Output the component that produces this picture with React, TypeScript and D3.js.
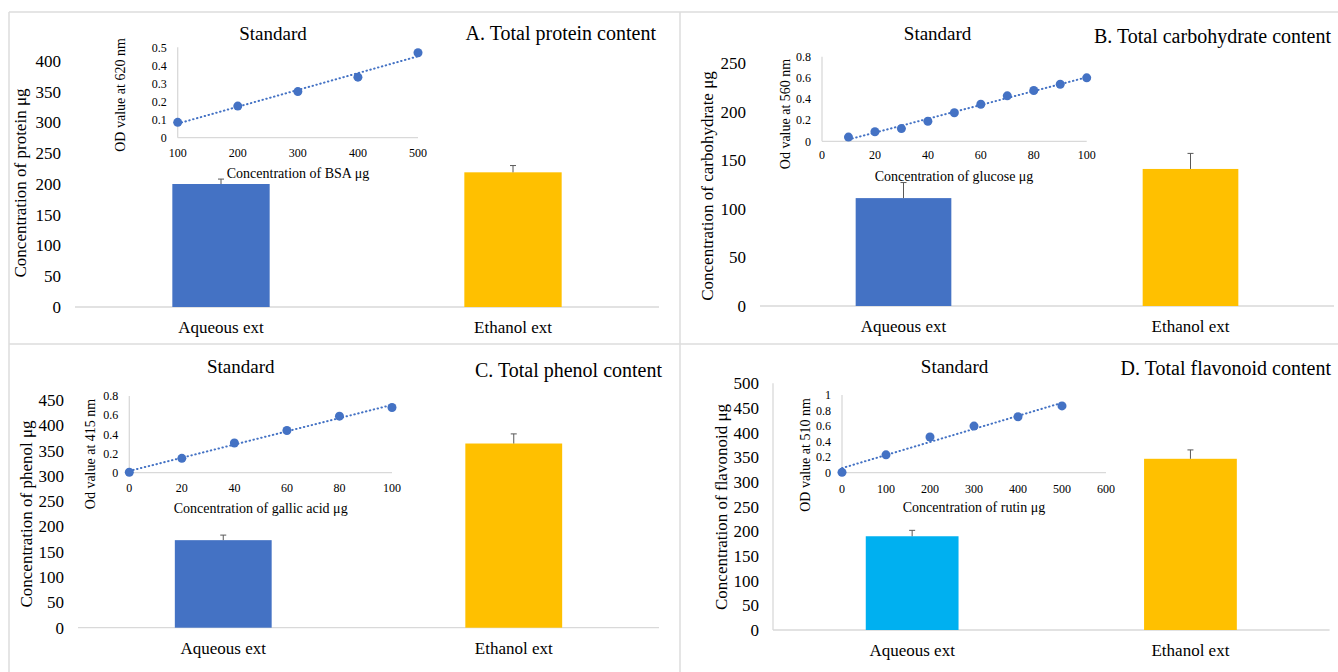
import React from 'react';
import * as d3 from 'd3';

// categories shared by all four panels
const categories = ['Aqueous ext', 'Ethanol ext'];

// A. protein
const proteinMeans = [200, 219];
const proteinErrors = [8, 11];
const bsaConc = [100, 200, 300, 400, 500];
const bsaOD = [0.085, 0.175, 0.255, 0.335, 0.47];

// B. carbohydrate
const carbMeans = [111, 141];
const carbErrors = [16, 16];
const glucoseConc = [10, 20, 30, 40, 50, 60, 70, 80, 90, 100];
const glucoseOD = [0.04, 0.09, 0.12, 0.19, 0.27, 0.35, 0.43, 0.48, 0.54, 0.6];

// C. phenol
const phenolMeans = [173, 364];
const phenolErrors = [10, 19];
const gallicConc = [0, 20, 40, 60, 80, 100];
const gallicOD = [0.005, 0.15, 0.31, 0.44, 0.59, 0.68];

// D. flavonoid
const flavMeans = [190, 347];
const flavErrors = [12, 18];
const rutinConc = [0, 100, 200, 300, 400, 500];
const rutinOD = [0.005, 0.23, 0.46, 0.6, 0.72, 0.86];

const FONT = "'Liberation Serif', 'Times New Roman', 'DejaVu Serif', serif";
const AXIS = '#d9d9d9';
const DOT = '#4472C4';

function fmt(v: number) {
    return String(+v.toFixed(2));
}

// least squares line, like Excel's linear trendline
function regression(xs: number[], ys: number[]) {
    const mx = d3.mean(xs) as number, my = d3.mean(ys) as number;
    let num = 0, den = 0;
    xs.forEach((x, i) => { num += (x - mx) * (ys[i] - my); den += (x - mx) * (x - mx); });
    const slope = num / den;
    return (x: number) => my + slope * (x - mx);
}

function Inset({cfg}: any) {
    const x = d3.scaleLinear().domain(cfg.xDomain).range(cfg.xRange);
    const y = d3.scaleLinear().domain(cfg.yDomain).range(cfg.yRange);
    const xTicks = d3.range(cfg.xDomain[0], cfg.xDomain[1] + cfg.xStep / 2, cfg.xStep);
    const yTicks = d3.range(cfg.yDomain[0], cfg.yDomain[1] + cfg.yStep / 2, cfg.yStep);
    const fit = regression(cfg.xs, cfg.ys);
    const x0 = d3.min(cfg.xs) as number, x1 = d3.max(cfg.xs) as number;
    const trend = d3.line<number>().x(d => x(d)).y(d => y(fit(d)))([x0, x1]);
    return (
        <g>
            <text x={cfg.titleX} y={cfg.titleY} textAnchor="middle" fontSize={19}>Standard</text>
            <line x1={x.range()[0]} x2={x.range()[1]} y1={y.range()[0]} y2={y.range()[0]} stroke={AXIS} strokeWidth={1.3}/>
            <line x1={x.range()[0]} x2={x.range()[0]} y1={y.range()[0]} y2={y.range()[1]} stroke={AXIS} strokeWidth={1.3}/>
            {xTicks.map(t => (
                <text key={'x' + t} x={x(t)} y={cfg.xLabelY} dy="0.35em" textAnchor="middle" fontSize={12}>{fmt(t)}</text>
            ))}
            {yTicks.map(t => (
                <text key={'y' + t} x={x.range()[0] - 11} y={y(t)} dy="0.35em" textAnchor="end" fontSize={12}>{fmt(t)}</text>
            ))}
            <text x={cfg.xTitleX} y={cfg.xTitleY} dy="0.35em" textAnchor="middle" fontSize={14}>{cfg.xTitle}</text>
            <text transform={`translate(${cfg.yTitleX},${cfg.yTitleY}) rotate(-90)`} dy="0.35em" textAnchor="middle" fontSize={14}>{cfg.yTitle}</text>
            <path d={trend || ''} fill="none" stroke={DOT} strokeWidth={2} strokeDasharray="0.5 3.5" strokeLinecap="round"/>
            {cfg.xs.map((v: number, i: number) => (
                <circle key={i} cx={x(v)} cy={y(cfg.ys[i])} r={4.5} fill={DOT}/>
            ))}
        </g>
    );
}

function Panel({cfg}: any) {
    const x = d3.scaleBand().domain(categories).range(cfg.xRange).paddingInner(2 / 3).paddingOuter(1 / 3);
    const y = d3.scaleLinear().domain([0, cfg.yMax]).range(cfg.yRange);
    const ticks = d3.range(0, cfg.yMax + 1, cfg.yStep);
    const base = y(0);
    return (
        <g>
            <line x1={cfg.xRange[0]} x2={cfg.xRange[1]} y1={base} y2={base} stroke={AXIS} strokeWidth={1.3}/>
            {cfg.yLine && <line x1={cfg.xRange[0]} x2={cfg.xRange[0]} y1={base} y2={y(cfg.yMax)} stroke={AXIS} strokeWidth={1.3}/>}
            {ticks.map(t => (
                <text key={t} x={cfg.xRange[0] - 14} y={y(t)} dy="0.35em" textAnchor="end" fontSize={17}>{t}</text>
            ))}
            <text transform={`translate(${cfg.yTitleX},${cfg.yTitleY}) rotate(-90)`} dy="0.35em" textAnchor="middle" fontSize={17}>{cfg.yTitle}</text>
            {categories.map((c, i) => {
                const bx = x(c) as number, bw = x.bandwidth(), cx = bx + bw / 2;
                const top = y(cfg.means[i]), errTop = y(cfg.means[i] + cfg.errors[i]);
                return (
                    <g key={c}>
                        <rect x={bx} y={top} width={bw} height={base - top} fill={cfg.colors[i]}/>
                        <line x1={cx} x2={cx} y1={top} y2={errTop} stroke="#595959" strokeWidth={1}/>
                        <line x1={cx - 3} x2={cx + 3} y1={errTop} y2={errTop} stroke="#595959" strokeWidth={1}/>
                        <text x={cx} y={base + 20} dy="0.35em" textAnchor="middle" fontSize={17}>{c}</text>
                    </g>
                );
            })}
            <text x={cfg.titleRight} y={cfg.titleY} textAnchor="end" fontSize={20}>{cfg.title}</text>
            <Inset cfg={cfg.inset}/>
        </g>
    );
}

const panels = [
    {
        title: 'A. Total protein content', titleRight: 656, titleY: 40,
        xRange: [75, 659], yRange: [307, 61], yMax: 400, yStep: 50, yLine: false,
        yTitle: 'Concentration of protein μg', yTitleX: 20, yTitleY: 183,
        means: proteinMeans, errors: proteinErrors, colors: ['#4472C4', '#FFC000'],
        inset: {
            xs: bsaConc, ys: bsaOD, xDomain: [100, 500], xRange: [177.7, 418], xStep: 100,
            yDomain: [0, 0.5], yRange: [137.7, 47.3], yStep: 0.1,
            xLabelY: 153, xTitle: 'Concentration of BSA μg', xTitleX: 298, xTitleY: 172.6,
            yTitle: 'OD value at 620 nm', yTitleX: 120, yTitleY: 95, titleX: 273, titleY: 40
        }
    },
    {
        title: 'B. Total carbohydrate content', titleRight: 1331, titleY: 43,
        xRange: [760, 1334], yRange: [306, 63], yMax: 250, yStep: 50, yLine: false,
        yTitle: 'Concentration of carbohydrate μg', yTitleX: 707.5, yTitleY: 186,
        means: carbMeans, errors: carbErrors, colors: ['#4472C4', '#FFC000'],
        inset: {
            xs: glucoseConc, ys: glucoseOD, xDomain: [0, 100], xRange: [822, 1086.7], xStep: 20,
            yDomain: [0, 0.8], yRange: [141.3, 56.7], yStep: 0.2,
            xLabelY: 155, xTitle: 'Concentration of glucose μg', xTitleX: 954, xTitleY: 175.7,
            yTitle: 'Od value at 560 nm', yTitleX: 785, yTitleY: 114, titleX: 937.6, titleY: 40
        }
    },
    {
        title: 'C. Total phenol content', titleRight: 662, titleY: 377,
        xRange: [78, 659], yRange: [627.7, 400], yMax: 450, yStep: 50, yLine: false,
        yTitle: 'Concentration of phenol μg', yTitleX: 26, yTitleY: 514,
        means: phenolMeans, errors: phenolErrors, colors: ['#4472C4', '#FFC000'],
        inset: {
            xs: gallicConc, ys: gallicOD, xDomain: [0, 100], xRange: [129.3, 392], xStep: 20,
            yDomain: [0, 0.8], yRange: [472.7, 396], yStep: 0.2,
            xLabelY: 488, xTitle: 'Concentration of gallic acid μg', xTitleX: 260.7, xTitleY: 508,
            yTitle: 'Od value at 415 nm', yTitleX: 90, yTitleY: 454, titleX: 240.7, titleY: 373
        }
    },
    {
        title: 'D. Total flavonoid content', titleRight: 1331, titleY: 375,
        xRange: [773, 1329.6], yRange: [630, 383.3], yMax: 500, yStep: 50, yLine: true,
        yTitle: 'Concentration of flavonoid μg', yTitleX: 721, yTitleY: 507,
        means: flavMeans, errors: flavErrors, colors: ['#00B0F0', '#FFC000'],
        inset: {
            xs: rutinConc, ys: rutinOD, xDomain: [0, 600], xRange: [842, 1106], xStep: 100,
            yDomain: [0, 1], yRange: [472.7, 395], yStep: 0.2,
            xLabelY: 488.3, xTitle: 'Concentration of rutin μg', xTitleX: 974, xTitleY: 507.3,
            yTitle: 'OD value at 510 nm', yTitleX: 805, yTitleY: 455, titleX: 954.6, titleY: 373
        }
    }
];

export default function App() {
    return (
        <svg width={1338} height={672} style={{position: 'absolute', left: 0, top: 0, background: '#fff', fontFamily: FONT}}
             fill="#000">
            <rect width={1338} height={672} fill="#fff"/>
            {/* panel frame */}
            <g stroke="#dcdcdc" strokeWidth={1.5}>
                <line x1={9} x2={1338} y1={12} y2={12}/>
                <line x1={9} x2={1338} y1={344} y2={344}/>
                <line x1={9} x2={9} y1={12} y2={672}/>
                <line x1={680} x2={680} y1={12} y2={672}/>
            </g>
            {panels.map((p, i) => <Panel key={i} cfg={p}/>)}
        </svg>
    );
}
